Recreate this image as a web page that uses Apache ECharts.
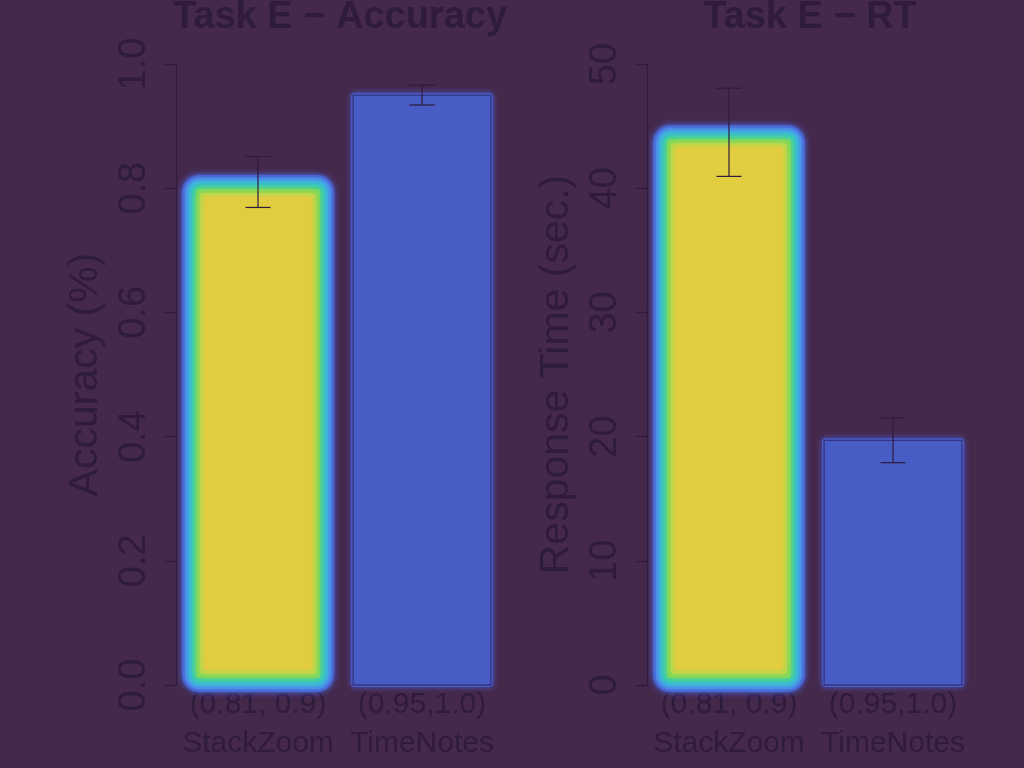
<!DOCTYPE html>
<html>
<head>
<meta charset="utf-8">
<script src="https://cdn.jsdelivr.net/npm/echarts@6/dist/echarts.min.js"></script>
<style>
html,body{margin:0;padding:0;background:#45294b;}
#c{width:1024px;height:768px;}
</style>
</head>
<body>
<div id="c"></div>
<script>
// ---- data ----
const rangeLabels = ['(0.81, 0.9)', '(0.95,1.0)'];
const methodNames = ['StackZoom', 'TimeNotes'];
const accMean = [0.81, 0.95];
const accErr = [0.041, 0.016];
const rtMean = [44.5, 19.7];
const rtErr = [3.55, 1.8];
const accTicks = { min: 0, max: 1, interval: 0.2 };
const rtTicks = { min: 0, max: 50, interval: 10 };
const titles = ['Task E \u2212 Accuracy', 'Task E \u2212 RT'];
const yNames = ['Accuracy (%)', 'Response Time (sec.)'];

const categories = rangeLabels.map((r, i) => r + '\n' + methodNames[i]);

const FONT = 'Liberation Sans, Arial, Helvetica, sans-serif';
const INK = '#2f1b3c';
const BLUE = '#485cc5';

const glowLayers = [
  { e: 7, c: '#4a58cc' },
  { e: 4, c: '#5484ec' },
  { e: 1, c: '#3fb0e4' },
  { e: -3, c: '#34cbb6' },
  { e: -7, c: '#76d960' },
  { e: -11, c: '#b8d84c' },
  { e: -15, c: '#e2cc40' }
];

function barRender(params, api) {
  const idx = api.value(0);
  const v = api.value(1);
  const top = api.coord([idx, v]);
  const bot = api.coord([idx, 0]);
  const band = api.size([1, 0])[0];
  const w = band * 0.84;
  const x0 = top[0] - w / 2;
  const y0 = top[1], y1 = bot[1];
  if (idx === 0) {
    const children = glowLayers.map(l => ({
      type: 'rect',
      shape: { x: x0 - l.e, y: y0 - l.e, width: w + 2 * l.e, height: (y1 - y0) + 2 * l.e, r: Math.max(3, 10 + l.e) },
      style: { fill: l.c, shadowBlur: 7, shadowColor: l.c }
    }));
    return { type: 'group', children: children };
  }
  return {
    type: 'group',
    children: [
      { type: 'rect', shape: { x: x0 - 2, y: y0 - 2, width: w + 4, height: (y1 - y0) + 4, r: 3 },
        style: { fill: '#4a5bc8', shadowBlur: 6, shadowColor: '#4a5bc8' } },
      { type: 'rect', shape: { x: x0, y: y0, width: w, height: y1 - y0 },
        style: { fill: BLUE, stroke: '#35337e', lineWidth: 1.3 } }
    ]
  };
}

function errRender(params, api) {
  const idx = api.value(0);
  const m = api.value(1), e = api.value(2);
  const hi = api.coord([idx, m + e]);
  const lo = api.coord([idx, m - e]);
  const cap = 12.5;
  const st = { stroke: INK, lineWidth: 1.2 };
  return {
    type: 'group',
    children: [
      { type: 'line', shape: { x1: hi[0], y1: hi[1], x2: lo[0], y2: lo[1] }, style: st },
      { type: 'line', shape: { x1: hi[0] - cap, y1: hi[1], x2: hi[0] + cap, y2: hi[1] }, style: st },
      { type: 'line', shape: { x1: lo[0] - cap, y1: lo[1], x2: lo[0] + cap, y2: lo[1] }, style: st }
    ]
  };
}

function xAxisCfg(gi) {
  return {
    type: 'category', gridIndex: gi, data: categories,
    axisLine: { show: false }, axisTick: { show: false },
    axisLabel: { interval: 0, fontSize: 30, lineHeight: 39, color: INK, fontFamily: FONT, margin: 0 }
  };
}
function yAxisCfg(gi, t, name, fmt) {
  return {
    type: 'value', gridIndex: gi, min: t.min, max: t.max, interval: t.interval,
    splitLine: { show: false },
    axisLine: { show: true, lineStyle: { color: INK, width: 1.3 } },
    axisTick: { show: true, length: 12, lineStyle: { color: INK, width: 1.3 } },
    axisLabel: { rotate: 90, fontSize: 38, color: INK, fontFamily: FONT, margin: 22, formatter: fmt },
    name: name, nameLocation: 'middle', nameRotate: 90, nameGap: 70,
    nameTextStyle: { fontSize: 41, color: INK, fontFamily: FONT }
  };
}

const accData = accMean.map((v, i) => [i, v]);
const accErrData = accMean.map((v, i) => [i, v, accErr[i]]);
const rtData = rtMean.map((v, i) => [i, v]);
const rtErrData = rtMean.map((v, i) => [i, v, rtErr[i]]);

const chart = echarts.init(document.getElementById('c'), null, { renderer: 'canvas' });
chart.setOption({
  backgroundColor: '#45294b',
  animation: false,
  graphic: [
    { type: 'text', x: 340, y: -1, style: { text: titles[0], fill: INK, font: 'bold 38px ' + FONT, textAlign: 'center', textVerticalAlign: 'top' } },
    { type: 'text', x: 810, y: -1, style: { text: titles[1], fill: INK, font: 'bold 38px ' + FONT, textAlign: 'center', textVerticalAlign: 'top' } }
  ],
  grid: [
    { left: 176, width: 328, top: 64, height: 621 },
    { left: 647, width: 328, top: 64, height: 621 }
  ],
  xAxis: [xAxisCfg(0), xAxisCfg(1)],
  yAxis: [
    yAxisCfg(0, accTicks, yNames[0], v => v.toFixed(1)),
    yAxisCfg(1, rtTicks, yNames[1], v => String(v))
  ],
  series: [
    { type: 'custom', xAxisIndex: 0, yAxisIndex: 0, renderItem: barRender, data: accData, z: 2 },
    { type: 'custom', xAxisIndex: 0, yAxisIndex: 0, renderItem: errRender, data: accErrData, z: 3 },
    { type: 'custom', xAxisIndex: 1, yAxisIndex: 1, renderItem: barRender, data: rtData, z: 2 },
    { type: 'custom', xAxisIndex: 1, yAxisIndex: 1, renderItem: errRender, data: rtErrData, z: 3 }
  ]
});
</script>
</body>
</html>
